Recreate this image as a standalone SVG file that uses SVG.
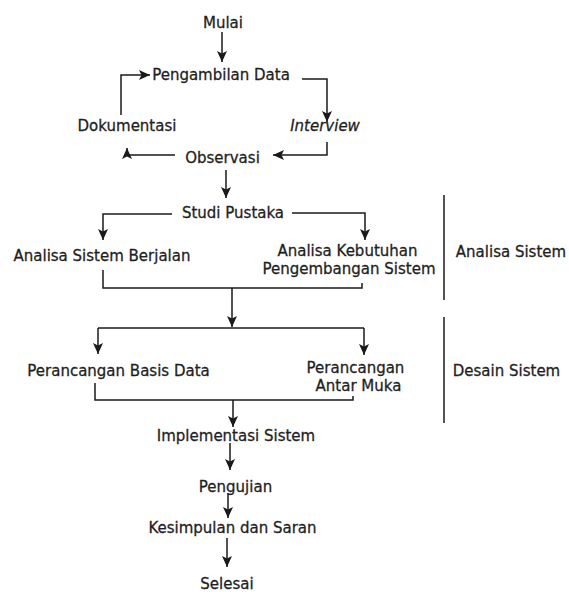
<svg xmlns="http://www.w3.org/2000/svg" width="569" height="592" viewBox="0 0 569 592">
<defs>
<marker id="arr" viewBox="0 0 11 10" refX="11" refY="5" markerWidth="11" markerHeight="10" markerUnits="userSpaceOnUse" orient="auto">
<path d="M0,0 L11,5 L0,10 L2.5,5 z" fill="#1a1a1a"/>
</marker>
<style>
text{font-family:"DejaVu Sans","Liberation Sans",sans-serif;font-size:15px;fill:#1f1f1f;stroke:#1f1f1f;stroke-width:0.3;text-anchor:middle}
.c path{fill:none;stroke:#1a1a1a;stroke-width:1.5}
.c .a{marker-end:url(#arr)}
.it{font-style:italic}
</style>
</defs>
<rect width="569" height="592" fill="#fff"/>
<g class="c" id="connectors">
<path class="a" d="M222,32 V62"/>
<path class="a" d="M121,115 V75 H150"/>
<path class="a" d="M302,79 H327 V122"/>
<path class="a" d="M327,142 V155 H273"/>
<path class="a" d="M175,155 H127 V148"/>
<path class="a" d="M226,170 V198"/>
<path class="a" d="M172,214 H103 V240"/>
<path class="a" d="M292,213 H365 V240"/>
<path d="M103,270 V288 H362 V283"/>
<path class="a" d="M232,288 V327"/>
<path d="M98,328 H364"/>
<path class="a" d="M98,328 V354"/>
<path class="a" d="M364,328 V355"/>
<path d="M95,383 V400 H353 V396"/>
<path class="a" d="M233,400 V427"/>
<path class="a" d="M230,443 V470"/>
<path class="a" d="M228,493 V518"/>
<path class="a" d="M227,538 V567"/>
<path d="M444,195 V300"/>
<path d="M444,317 V423"/>
</g>
<g id="mulai"><text x="223" y="28">Mulai</text></g>
<g id="pengambilan"><text x="221" y="80">Pengambilan Data</text></g>
<g id="dokumentasi"><text x="127" y="131">Dokumentasi</text></g>
<g id="interview"><text class="it" x="325" y="131">Interview</text></g>
<g id="observasi"><text x="222.5" y="163">Observasi</text></g>
<g id="studi"><text x="233" y="218">Studi Pustaka</text></g>
<g id="asb"><text x="102" y="261">Analisa Sistem Berjalan</text></g>
<g id="akps"><text x="347.5" y="256">Analisa Kebutuhan</text><text x="349" y="274">Pengembangan Sistem</text></g>
<g id="analisa-sistem"><text x="511" y="257">Analisa Sistem</text></g>
<g id="pbd"><text x="118.5" y="376">Perancangan Basis Data</text></g>
<g id="pam"><text x="355.5" y="373">Perancangan</text><text x="358.5" y="391">Antar Muka</text></g>
<g id="desain-sistem"><text x="506.5" y="376">Desain Sistem</text></g>
<g id="implementasi"><text x="236" y="441">Implementasi Sistem</text></g>
<g id="pengujian"><text x="235.5" y="492">Pengujian</text></g>
<g id="kesimpulan"><text x="232.5" y="533">Kesimpulan dan Saran</text></g>
<g id="selesai"><text x="227" y="589">Selesai</text></g>
</svg>
